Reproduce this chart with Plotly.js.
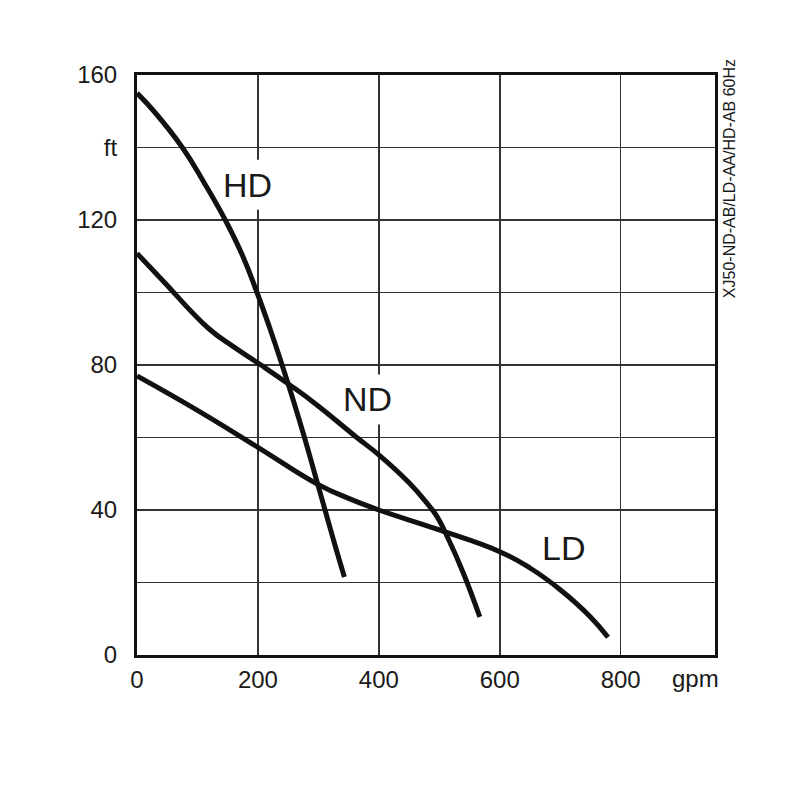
<!DOCTYPE html>
<html>
<head>
<meta charset="utf-8">
<script src="https://cdn.plot.ly/plotly-3.0.1.min.js"></script>
<style>html,body{margin:0;padding:0;background:#fff;}#chart{width:800px;height:800px;}</style>
</head>
<body>
<div id="chart"></div>
<script>
// Flow (gpm) and head (ft)
const hdX = [0, 28, 75, 112, 146, 175, 198.5, 220, 240, 259, 277, 294, 311, 328, 343];
const hdY = [155, 150, 140, 130, 120, 110, 100, 90, 80, 70, 60, 50, 40, 30, 21.5];

const ndX = [0, 42, 119, 160, 205, 251, 296, 362, 400, 450, 480, 495, 515, 540, 567];
const ndY = [110.8, 103.4, 90, 85, 80, 74.7, 69.2, 60.2, 55.2, 47.5, 41.8, 38.5, 32, 22.5, 10.5];

const ldX = [0, 100, 200, 300, 350, 400, 500, 600, 650, 700, 750, 779];
const ldY = [77, 67.5, 57.3, 47, 43.2, 40, 34.5, 28.5, 24, 18, 10.5, 4.9];

const xTickVals = [0, 200, 400, 600, 800];
const xTickText = ['0', '200', '400', '600', '800'];
const yTickVals = [0, 20, 40, 60, 80, 100, 120, 140, 160];
const yTickText = ['0', '', '40', '', '80', '', '120', 'ft', '160'];

const seriesNames = ['HD', 'ND', 'LD'];
const labelX = [182, 382, 705];
const labelY = [129.7, 70.5, 29.5];

const FONT = 'Liberation Sans, Arial, Helvetica, sans-serif';
const lineStyle = {color: '#111', width: 5, shape: 'spline', smoothing: 1.3};

const traces = [
  {x: hdX, y: hdY, name: 'HD', mode: 'lines', line: lineStyle, hoverinfo: 'skip'},
  {x: ndX, y: ndY, name: 'ND', mode: 'lines', line: lineStyle, hoverinfo: 'skip'},
  {x: ldX, y: ldY, name: 'LD', mode: 'lines', line: lineStyle, hoverinfo: 'skip'}
];

// white boxes behind the curve labels (between grid and curves)
const shapes = seriesNames.map((n, i) => ({
  type: 'rect', layer: 'between',
  xref: 'x', yref: 'y', xsizemode: 'pixel', ysizemode: 'pixel',
  xanchor: labelX[i], yanchor: labelY[i], x0: -27, x1: 27, y0: -25, y1: 25,
  fillcolor: '#ffffff', line: {width: 0}
}));

const annotations = seriesNames.map((n, i) => ({
  x: labelX[i], y: labelY[i], xref: 'x', yref: 'y', text: n, showarrow: false,
  font: {family: FONT, size: 34, color: '#1a1a1a'}
}));
annotations.push({
  x: 0.9654, y: -0.041, xref: 'paper', yref: 'paper', text: 'gpm', showarrow: false,
  font: {family: FONT, size: 24, color: '#1a1a1a'}, xanchor: 'center', yanchor: 'middle'
});
annotations.push({
  x: 1.0254, y: 0.8216, xref: 'paper', yref: 'paper', text: 'XJ50-ND-AB/LD-AA/HD-AB 60Hz',
  showarrow: false, textangle: -90,
  font: {family: FONT, size: 16, color: '#1a1a1a'}, xanchor: 'center', yanchor: 'middle'
});

const layout = {
  width: 800, height: 800,
  margin: {l: 137, r: 85, t: 75, b: 145},
  paper_bgcolor: '#fff', plot_bgcolor: '#fff',
  showlegend: false,
  xaxis: {
    range: [0, 956], tickvals: xTickVals, ticktext: xTickText,
    showgrid: true, gridcolor: '#333', gridwidth: 1.6, zeroline: false,
    showline: true, mirror: true, linecolor: '#111', linewidth: 3,
    ticks: 'outside', ticklen: 1, tickcolor: 'rgba(0,0,0,0)',
    tickfont: {family: FONT, size: 24, color: '#1a1a1a'}, fixedrange: true
  },
  yaxis: {
    range: [0, 160], tickvals: yTickVals, ticktext: yTickText,
    showgrid: true, gridcolor: '#333', gridwidth: 1.6, zeroline: false,
    showline: true, mirror: true, linecolor: '#111', linewidth: 3,
    ticks: 'outside', ticklen: 12, tickcolor: 'rgba(0,0,0,0)',
    tickfont: {family: FONT, size: 24, color: '#1a1a1a'}, fixedrange: true
  },
  shapes: shapes,
  annotations: annotations
};

Plotly.newPlot('chart', traces, layout, {staticPlot: true, displayModeBar: false});
</script>
</body>
</html>
